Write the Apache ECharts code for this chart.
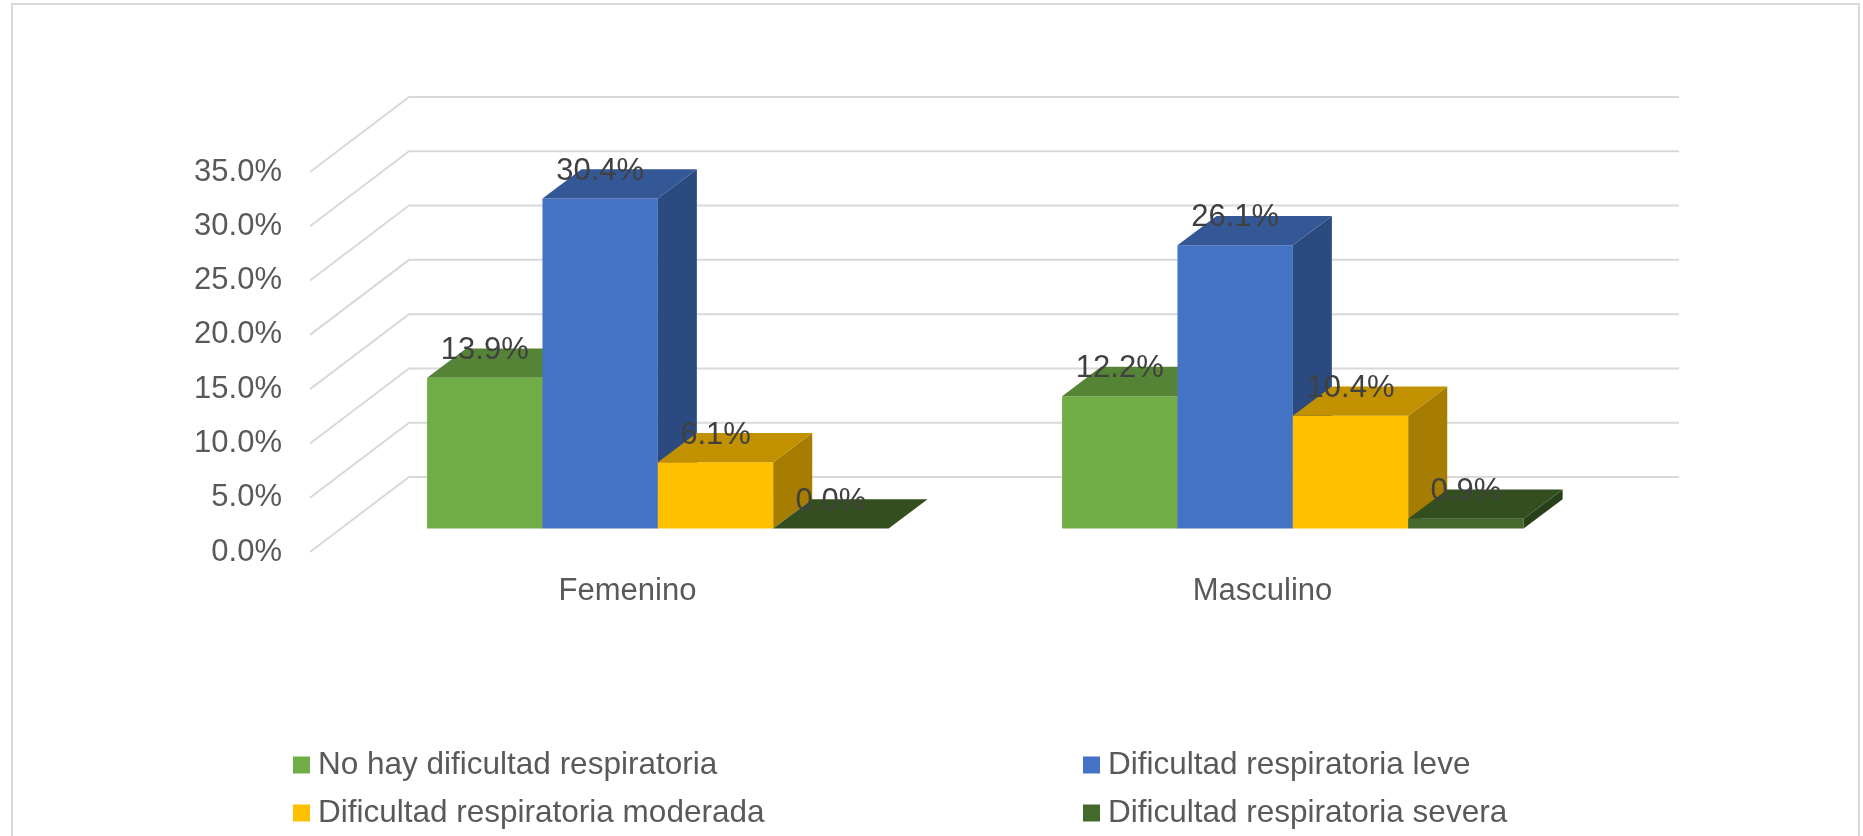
<!DOCTYPE html>
<html>
<head>
<meta charset="utf-8">
<script src="https://cdn.jsdelivr.net/npm/echarts@6/dist/echarts.min.js"></script>
<style>
  html, body { margin: 0; padding: 0; background: #ffffff; }
  #chart { width: 1863px; height: 836px; }
</style>
</head>
<body>
<div id="chart"></div>
<script>
// Respiratory difficulty by sex (percent of respondents)
const categories = ['Femenino', 'Masculino'];
const seriesNames = [
  'No hay dificultad respiratoria',
  'Dificultad respiratoria leve',
  'Dificultad respiratoria moderada',
  'Dificultad respiratoria severa'
];
const noHay = [13.9, 12.2];
const leve = [30.4, 26.1];
const moderada = [6.1, 10.4];
const severa = [0.0, 0.9];
const yTicks = [0, 5, 10, 15, 20, 25, 30, 35];

const seriesValues = [noHay, leve, moderada, severa];

// front / top / side shades of each box
const palette = [
  { front: '#70AD47', top: '#568437', side: '#4A722E' },
  { front: '#4472C4', top: '#345795', side: '#2B4A80' },
  { front: '#FFC000', top: '#C29100', side: '#A67D00' },
  { front: '#44692C', top: '#334F20', side: '#28401A' }
];

const FONT = '"Liberation Sans", Arial, sans-serif';

// oblique projection of the plot box (walls) and of the bars
const WALL_DX = 99, WALL_DY = 75;
const BAR_DX = 39, BAR_DY = 29.3;
const BAR_INSET = 23.4;          // bar row sits this far behind the front edge of the floor
const GROUP_START = 0.1844;      // start of the bar group inside a category band
const BAR_FRAC = 0.1817;         // width of one bar as a fraction of the band

function wallRenderer(params, api) {
  const p = api.coord([0, api.value(1)]);
  const cs = params.coordSys;
  const xL = cs.x, xR = cs.x + cs.width;
  return {
    type: 'polyline',
    silent: true,
    shape: { points: [[xL, p[1]], [xL + WALL_DX, p[1] - WALL_DY], [xR + WALL_DX, p[1] - WALL_DY]] },
    style: { stroke: '#D9D9D9', lineWidth: 2, fill: null }
  };
}

function boxRenderer(idx) {
  return function (params, api) {
    const cat = api.value(0);
    const v = api.value(1);
    const top = api.coord([cat, v]);
    const base = api.coord([cat, 0]);
    const band = api.size([1, 0])[0];
    const bw = band * BAR_FRAC;
    const x0 = top[0] - band / 2 + band * GROUP_START + idx * bw;
    const x1 = x0 + bw;
    const yT = top[1] - BAR_INSET;
    const yB = base[1] - BAR_INSET;
    const c = palette[idx];
    return {
      type: 'group',
      children: [
        { type: 'rect', shape: { x: x0, y: yT, width: bw, height: yB - yT }, style: { fill: c.front } },
        { type: 'polygon', shape: { points: [[x1, yT], [x1 + BAR_DX, yT - BAR_DY], [x1 + BAR_DX, yB - BAR_DY], [x1, yB]] }, style: { fill: c.side } },
        { type: 'polygon', shape: { points: [[x0, yT], [x1, yT], [x1 + BAR_DX, yT - BAR_DY], [x0 + BAR_DX, yT - BAR_DY]] }, style: { fill: c.top } },
        {
          type: 'text',
          z2: 10,
          style: {
            x: (x0 + x1) / 2,
            y: yT - BAR_DY + 2,
            text: v.toFixed(1) + '%',
            fill: '#404040',
            font: '31px ' + FONT,
            align: 'center',
            verticalAlign: 'middle',
            textAlign: 'center',
            textVerticalAlign: 'middle'
          }
        }
      ]
    };
  };
}

const series = [{
  type: 'custom',
  name: 'walls',
  silent: true,
  z: 1,
  renderItem: wallRenderer,
  data: yTicks.map(t => [0, t])
}];

seriesNames.forEach((name, i) => {
  series.push({
    type: 'custom',
    name: name,
    z: 2,
    itemStyle: { color: palette[i].front },
    renderItem: boxRenderer(i),
    encode: { x: 0, y: 1 },
    data: seriesValues[i].map((v, k) => [k, v])
  });
});

const legendBase = {
  orient: 'vertical',
  top: 749,
  padding: 0,
  icon: 'rect',
  itemWidth: 17,
  itemHeight: 17,
  itemGap: 16,
  selectedMode: false,
  textStyle: { fontSize: 31.5, color: '#595959', fontFamily: FONT, lineHeight: 32, padding: [0, 0, 0, 3] }
};

const chart = echarts.init(document.getElementById('chart'), null, { renderer: 'canvas' });
chart.setOption({
  animation: false,
  backgroundColor: '#ffffff',
  graphic: [{
    type: 'rect',
    silent: true,
    shape: { x: 12, y: 4, width: 1847, height: 900 },
    style: { fill: null, stroke: '#D9D9D9', lineWidth: 2 }
  }],
  grid: { left: 310, right: 283, top: 172, bottom: 284, containLabel: false },
  xAxis: {
    type: 'category',
    data: categories,
    axisLine: { show: false },
    axisTick: { show: false },
    splitLine: { show: false },
    axisLabel: { color: '#595959', fontSize: 31, fontFamily: FONT, margin: 24 }
  },
  yAxis: {
    type: 'value',
    min: 0,
    max: 35,
    interval: 5,
    axisLine: { show: false },
    axisTick: { show: false },
    splitLine: { show: false },
    axisLabel: {
      color: '#595959',
      fontSize: 31,
      fontFamily: FONT,
      margin: 28,
      padding: [4, 0, 0, 0],
      formatter: v => v.toFixed(1) + '%'
    }
  },
  legend: [
    Object.assign({}, legendBase, { left: 293, data: [seriesNames[0], seriesNames[2]] }),
    Object.assign({}, legendBase, { left: 1083, data: [seriesNames[1], seriesNames[3]] })
  ],
  series: series
});
</script>
</body>
</html>
